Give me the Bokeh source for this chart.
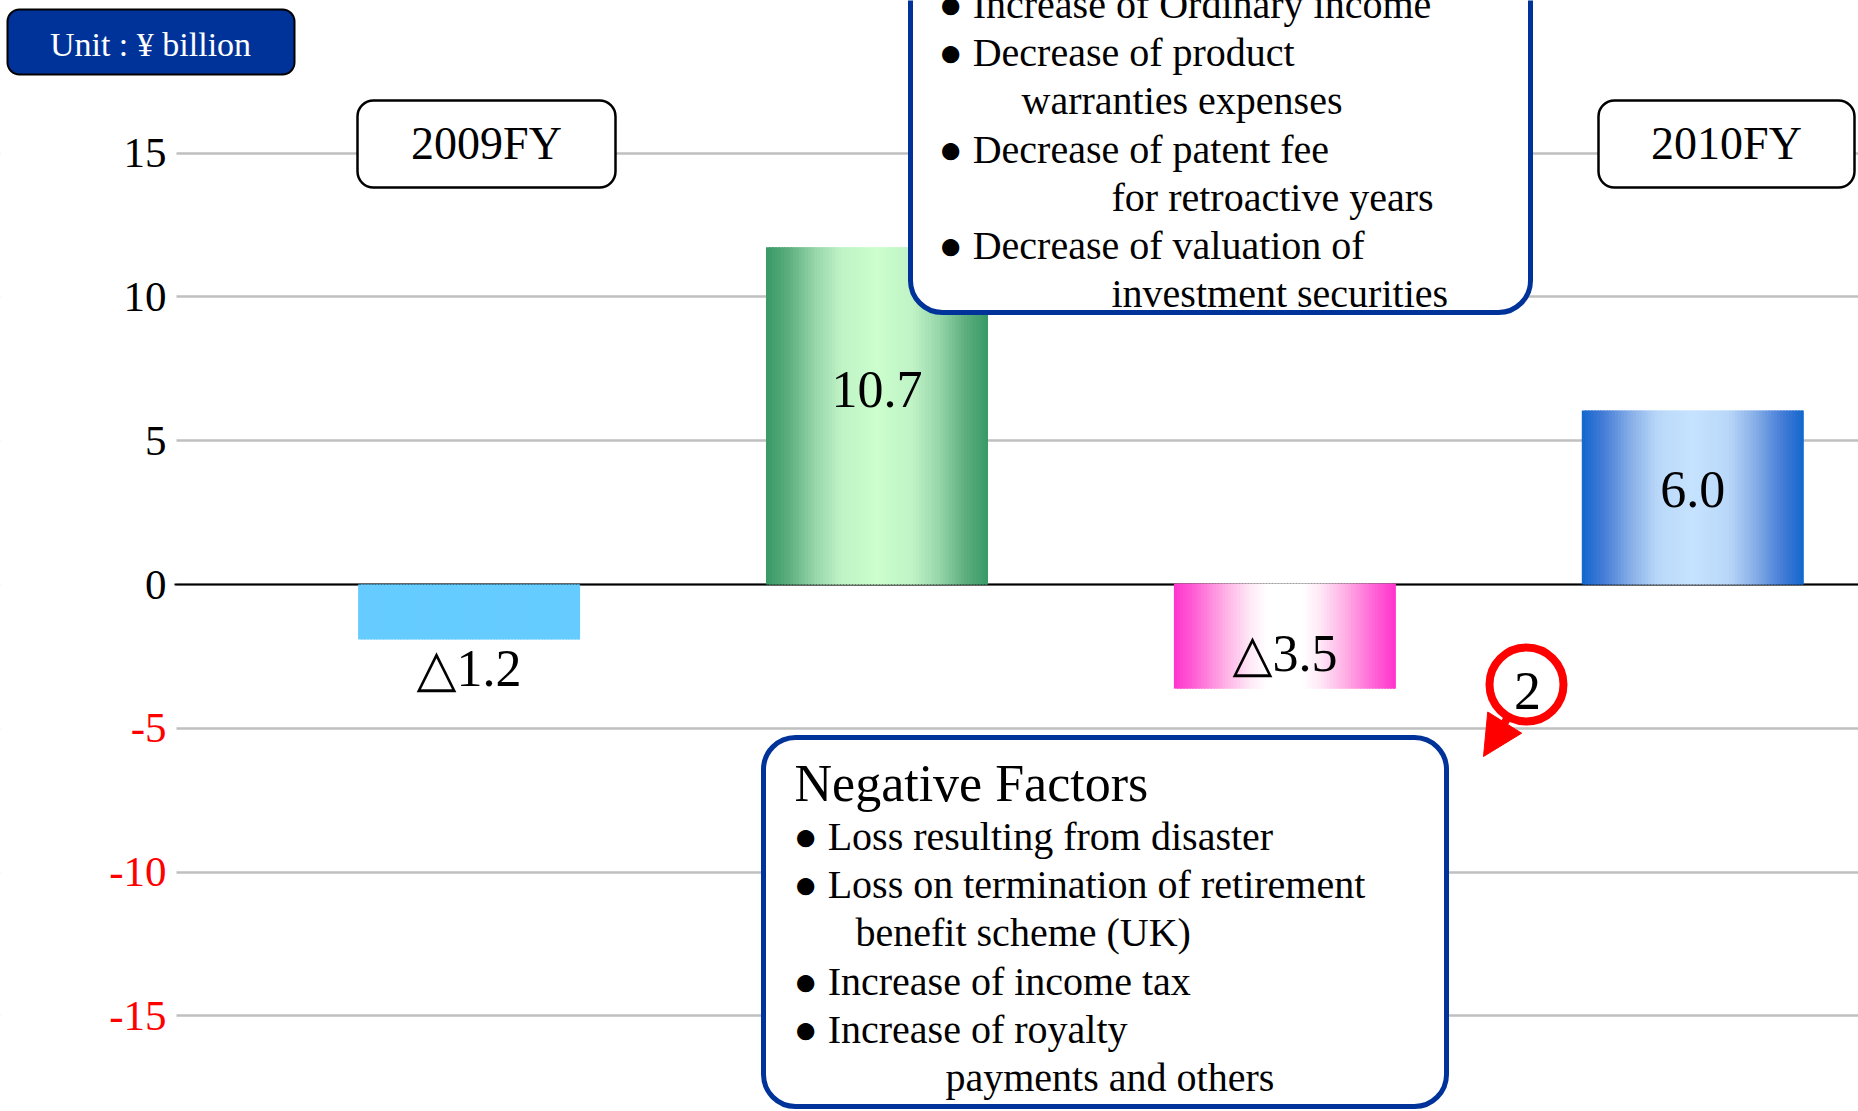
import numpy as np
from bokeh.plotting import figure
from bokeh.models import (Range1d, FixedTicker, BoxAnnotation, Label, Arrow,
                          NormalHead, ColumnDataSource, LinearAxis, Grid)
from bokeh.core.properties import value
from bokeh.embed import file_html
from bokeh.resources import INLINE

# ---------------- data ----------------
categories = ["2009FY", "Positive factors", "Negative factors", "2010FY"]
change_values = [-1.2, 10.7, -3.5, 6.0]
value_labels = ["△1.2", "10.7", "△3.5", "6.0"]
# bar extents as drawn in the picture (axis units)
bar_tops = [0.0, 11.73, 0.03, 6.05]
bar_bottoms = [-1.91, 0.0, -3.62, 0.0]

pos_ticks = [0, 5, 10, 15]
neg_ticks = [-5, -10, -15]

year_labels = ["2009FY", "2010FY"]
unit_text = "Unit : ¥ billion"
positive_lines = [
    "● Increase of Ordinary income",
    "● Decrease of product",
    "warranties expenses",
    "● Decrease of patent fee",
    "for retroactive years",
    "● Decrease of valuation of",
    "investment securities",
]
negative_title = "Negative Factors"
negative_lines = [
    "● Loss resulting from disaster",
    "● Loss on termination of retirement",
    "benefit scheme (UK)",
    "● Increase of income tax",
    "● Increase of royalty",
    "payments and others",
]
step_marker = "2"

# ---------------- layout (canvas pixels) ----------------
W, H = 1858, 1111
AXIS_PX = 178                 # where the gridlines start
X0_PX, X_STEP = 468.6, 407.9  # first category centre, category spacing
Y0_PX, Y_STEP = 584.0, 28.76  # zero line, px per unit
BAR_W = 222 / X_STEP


def X(px):
    return (px - X0_PX) / X_STEP


def Y(py):
    return (Y0_PX - py) / Y_STEP


SERIF = "Liberation Serif"
SERIF_FB = "Liberation Serif, DejaVu Sans"

p = figure(width=W, height=H, output_backend="svg", toolbar_location=None,
           x_range=Range1d(X(0), X(W)), y_range=Range1d(Y(H), Y(0)),
           x_axis_type=None, y_axis_type=None,
           min_border_left=0, min_border_right=0, min_border_top=0, min_border_bottom=0,
           outline_line_color=None, background_fill_color="white",
           border_fill_color="white")

# y axes: black positive labels, red negative labels (plain hyphen minus)
for ticks, color in [(pos_ticks, "black"), (neg_ticks, "#FF0000")]:
    ax = LinearAxis(fixed_location=X(AXIS_PX), ticker=FixedTicker(ticks=ticks),
                    axis_line_color=None, major_tick_line_color=None,
                    minor_tick_line_color=None, major_tick_in=0, major_tick_out=0,
                    major_label_standoff=12, major_label_text_font=SERIF,
                    major_label_text_font_size="43px", major_label_text_color=color,
                    major_label_overrides={t: str(t) for t in ticks})
    p.add_layout(ax, "left")

p.add_layout(Grid(dimension=1, ticker=FixedTicker(ticks=pos_ticks + neg_ticks),
                  grid_line_color="#C0C0C0", grid_line_width=2.5))
# keep the label strip left of the axis clean
p.add_layout(BoxAnnotation(left=X(-400), right=X(AXIS_PX - 2), top=Y(-400), bottom=Y(H + 400),
                           fill_color="white", fill_alpha=1.0, line_color=None,
                           line_alpha=0.0, level="underlay"))

# zero line (under bars)
p.segment(x0=[X(AXIS_PX - 4)], y0=[0], x1=[X(W + 20)], y1=[0],
          line_color="black", line_width=2)

# ---------------- gradient bars ----------------
cyan_stops = [(0.0, (102, 204, 255)), (0.5, (102, 204, 255))]
green_stops = [(0.0, (56, 153, 102)), (0.10, (92, 173, 125)), (0.22, (150, 214, 168)),
               (0.34, (192, 243, 198)), (0.5, (204, 255, 204))]
pink_stops = [(0.0, (255, 51, 204)), (0.10, (255, 100, 214)), (0.22, (255, 170, 228)),
              (0.34, (255, 232, 246)), (0.42, (255, 255, 255)), (0.5, (255, 255, 255))]
blue_stops = [(0.0, (17, 102, 204)), (0.10, (70, 125, 215)), (0.22, (135, 175, 232)),
              (0.34, (185, 215, 248)), (0.5, (198, 228, 255))]
bar_gradients = [cyan_stops, green_stops, pink_stops, blue_stops]


def grad_color(stops, t):
    u = t if t <= 0.5 else 1.0 - t
    for (t0, c0), (t1, c1) in zip(stops, stops[1:]):
        if t0 <= u <= t1:
            f = 0.0 if t1 == t0 else (u - t0) / (t1 - t0)
            return "#%02x%02x%02x" % tuple(int(round(a + (b - a) * f)) for a, b in zip(c0, c1))
    return "#%02x%02x%02x" % stops[-1][1]


N = 74
L, R, T, B, C = [], [], [], [], []
xs = list(range(len(categories)))
for i, xc in enumerate(xs):
    x_left = xc - BAR_W / 2
    for k in range(N):
        t0 = k / N
        t1 = min(1.0, (k + 1.7) / N)
        L.append(x_left + t0 * BAR_W)
        R.append(x_left + t1 * BAR_W)
        T.append(bar_tops[i])
        B.append(bar_bottoms[i])
        C.append(grad_color(bar_gradients[i], (k + 0.5) / N))

p.quad(left="left", right="right", top="top", bottom="bottom", fill_color="color",
       line_color=None, source=ColumnDataSource(dict(left=L, right=R, top=T, bottom=B, color=C)))

# value labels
label_dy = [56.5, -26.25, 17.5, -8]   # px offset from bar middle
mids = [(t + b) / 2 for t, b in zip(bar_tops, bar_bottoms)]
p.text(x="x", y="y", text="text", y_offset="dy",
       source=ColumnDataSource(dict(x=xs, y=mids, text=value_labels, dy=label_dy)),
       text_font=value(SERIF_FB), text_font_size=value("52px"),
       text_align="center", text_baseline="middle", text_color="black")

# ---------------- marker "2" with arrow ----------------
p.scatter(x=[X(1526)], y=[Y(684)], size=74, marker="circle", fill_color="white",
          line_color="#FF0000", line_width=8)
p.add_layout(Arrow(x_start=X(1508), y_start=Y(716), x_end=X(1483), y_end=Y(756),
                   line_color="#FF0000", line_width=8,
                   end=NormalHead(size=40, fill_color="#FF0000", line_color="#FF0000")))
p.add_layout(Label(x=X(1527), y=Y(690), text=step_marker, text_align="center",
                   text_baseline="middle", text_font=SERIF, text_font_size="54px",
                   text_color="black"))


# ---------------- boxes ----------------
def box(l, r, t, b, fill, line, lw, rad):
    p.add_layout(BoxAnnotation(left=X(l), right=X(r), top=Y(t), bottom=Y(b),
                               fill_color=fill, fill_alpha=1.0, line_color=line,
                               line_alpha=1.0, line_width=lw, border_radius=rad))


box(7, 294, 9, 74, "#003399", "black", 2, 12)            # unit box
box(357, 615, 100, 187, "white", "black", 2.5, 16)       # 2009FY
box(1598, 1854, 100, 187, "white", "black", 2.5, 16)     # 2010FY
box(910, 1530, -80, 312, "white", "#003399", 5, 32)      # positive factors
box(763, 1446, 737, 1106, "white", "#003399", 5, 32)     # negative factors

p.add_layout(Label(x=X(150), y=Y(44), text=unit_text, text_align="center",
                   text_baseline="middle", text_font=SERIF, text_font_size="34px",
                   text_color="white"))
for txt, cx in zip(year_labels, [486, 1726]):
    p.add_layout(Label(x=X(cx), y=Y(143), text=txt, text_align="center",
                       text_baseline="middle", text_font=SERIF, text_font_size="46px",
                       text_color="black"))

BODY_FS, TITLE_FS = 40, 52


def text_rows(xs_px, baselines_px, texts, fs):
    # rows are anchored at their vertical middle (about 0.335 em above the baseline)
    src = ColumnDataSource(dict(x=[X(v) for v in xs_px],
                                y=[Y(b - 0.335 * fs) for b in baselines_px],
                                text=texts))
    p.text(x="x", y="y", text="text", source=src, text_font=value(SERIF),
           text_font_size=value("%dpx" % fs), text_align="left",
           text_baseline="middle", text_color="black", level="overlay")


# positive factor text
text_rows([938, 938, 1021, 938, 1111, 938, 1111],
          [17, 65, 113, 162, 210, 258, 306], positive_lines, BODY_FS)
# negative factor text
text_rows([794], [800], [negative_title], TITLE_FS)
text_rows([793, 793, 855, 793, 793, 945],
          [849, 897, 945, 994, 1042, 1090], negative_lines, BODY_FS)

open("out.html", "w").write(file_html(p, INLINE))
